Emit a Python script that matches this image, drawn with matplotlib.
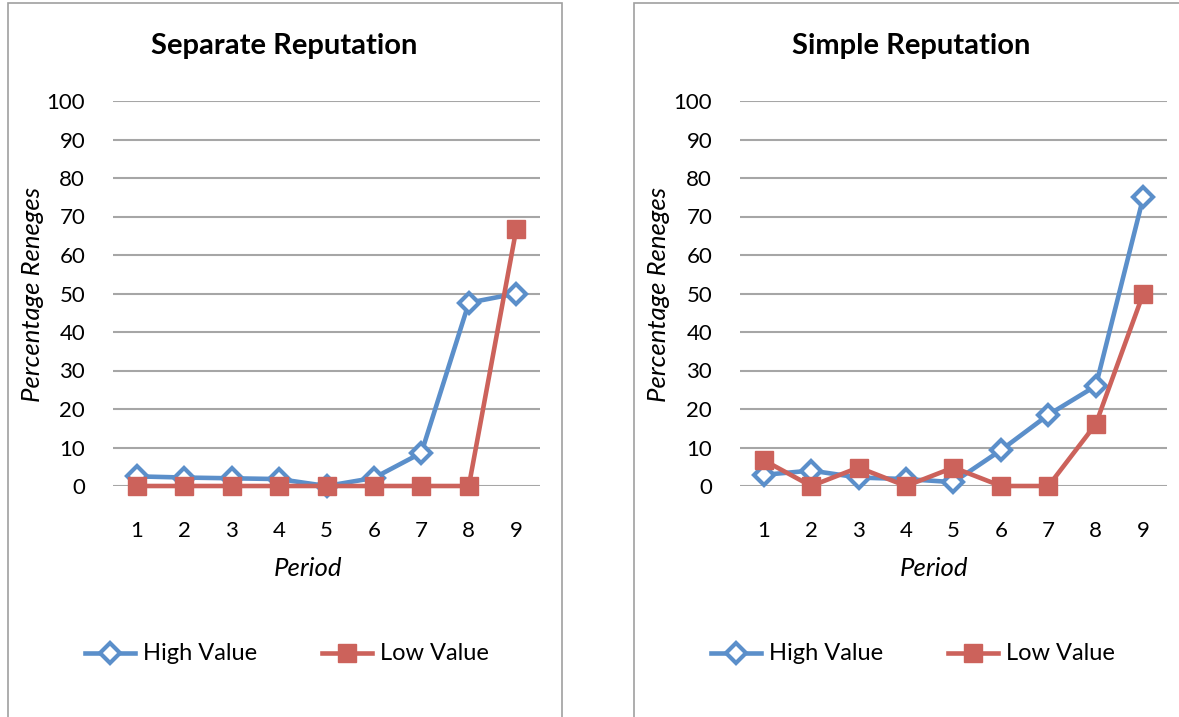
import matplotlib
matplotlib.use("Agg")
import matplotlib.pyplot as plt
from matplotlib.patches import Rectangle
from matplotlib.lines import Line2D

plt.rcParams['font.family'] = ['Lato', 'DejaVu Sans']

periods = [1, 2, 3, 4, 5, 6, 7, 8, 9]
yticks = [0, 10, 20, 30, 40, 50, 60, 70, 80, 90, 100]

separate_high = [2.5, 2.2, 2.0, 1.8, 0.0, 2.1, 8.6, 47.6, 50.0]
separate_low = [0, 0, 0, 0, 0, 0, 0, 0, 66.7]

simple_high = [2.9, 4.0, 2.2, 1.8, 1.0, 9.3, 18.5, 26.0, 75.0]
simple_low = [6.7, 0, 4.8, 0, 4.8, 0, 0, 16.1, 50.0]

panel_titles = ["Separate Reputation", "Simple Reputation"]
series_names = ["High Value", "Low Value"]

BLUE = "#5B8FCA"
RED = "#CC625B"
GRID = "#A6A6A6"

W, H = 1179, 717
fig = plt.figure(figsize=(W / 100, H / 100), dpi=100)


def px_rect(x0, y0, x1, y1):
    return [x0 / W, 1 - y1 / H, (x1 - x0) / W, (y1 - y0) / H]


# chart frames
for (fx0, fx1) in [(8, 562), (634, 1200)]:
    fig.add_artist(Rectangle((fx0 / W, -0.05), (fx1 - fx0) / W, 1 - 3 / H + 0.05,
                             transform=fig.transFigure, fill=False,
                             edgecolor="#A0A0A0", linewidth=1.2))

panels = [
    dict(ax=(113, 101, 540, 486), high=separate_high, low=separate_low,
         title=panel_titles[0], tx=284, ylx=33, xlx=308, legx=85),
    dict(ax=(740, 101, 1167, 486), high=simple_high, low=simple_low,
         title=panel_titles[1], tx=911, ylx=658, xlx=934, legx=711),
]

for p in panels:
    x0, y0, x1, y1 = p["ax"]
    ax = fig.add_axes(px_rect(x0, y0, x1, y1))
    ax.set_xlim(0.5, 9.5)
    ax.set_ylim(0, 100)
    ax.set_yticks(yticks)
    ax.set_xticks(periods)
    ax.set_xticklabels([str(v) for v in periods])
    ax.grid(axis="y", color=GRID, linewidth=1.5)
    ax.set_axisbelow(True)
    for s in ax.spines.values():
        s.set_visible(False)
    ax.tick_params(length=0, labelsize=16, colors="black")
    ax.tick_params(axis="y", pad=20)
    ax.tick_params(axis="x", pad=25)
    ax.plot(periods, p["high"], color=BLUE, linewidth=3.3, marker="D",
            markersize=10, markerfacecolor="white", markeredgecolor=BLUE,
            markeredgewidth=3, zorder=3, clip_on=False)
    ax.plot(periods, p["low"], color=RED, linewidth=3.3, marker="s",
            markersize=13, markerfacecolor=RED, markeredgecolor=RED,
            zorder=4, clip_on=False)

    fig.text(p["tx"] / W, 1 - 46 / H, p["title"], ha="center", va="center",
             fontsize=21, fontweight="bold")
    fig.text(p["ylx"] / W, 1 - 295 / H, "Percentage Reneges", ha="center",
             va="center", rotation=90, fontsize=18.5, fontstyle="italic")
    fig.text(p["xlx"] / W, 1 - 568 / H, "Period", ha="center",
             va="center", fontsize=18.5, fontstyle="italic")

    # legend entries
    lx = p["legx"]
    ly = 1 - 653 / H
    for i, (name, col) in enumerate(zip(series_names, [BLUE, RED])):
        sx = lx + i * 237
        fig.add_artist(Line2D([sx / W, (sx + 50) / W], [ly, ly],
                              transform=fig.transFigure, color=col, linewidth=3.3))
        if i == 0:
            fig.add_artist(Line2D([(sx + 25) / W], [ly], transform=fig.transFigure,
                                  marker="D", markersize=10, markerfacecolor="white",
                                  markeredgecolor=col, markeredgewidth=3))
        else:
            fig.add_artist(Line2D([(sx + 25) / W], [ly], transform=fig.transFigure,
                                  marker="s", markersize=13, markerfacecolor=col,
                                  markeredgecolor=col))
        fig.text((sx + 58) / W, ly, name, ha="left", va="center", fontsize=17)

fig.savefig("out.png", dpi=100, facecolor="white")
